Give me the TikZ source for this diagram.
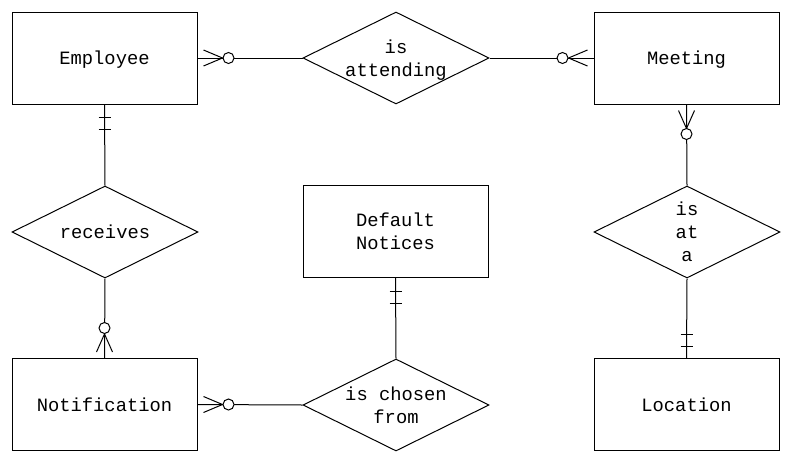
\documentclass[tikz,border=0pt]{standalone}
\usepackage{fontspec}
\setmonofont{Liberation Mono}
\usetikzlibrary{shapes.geometric,calc}
\begin{document}
\begin{tikzpicture}[x=1pt,y=-1pt,line width=1pt,
  every node/.style={font=\ttfamily\fontsize{18.8}{23}\selectfont,align=center,inner sep=0pt,text depth=0pt},
  entity/.style={draw,minimum width=185pt,minimum height=92pt},
  rel/.style={draw,diamond,aspect=2,minimum width=186pt,minimum height=92pt},
  ring/.style={draw,fill=white,circle,minimum size=11pt}]
\useasboundingbox (0,0) rectangle (787,458);
\node[entity] (emp) at (104.5,58) {Employee};
\node[entity] (meet) at (686.5,58) {Meeting};
\node[entity] (def) at (395.5,231.5) {Default\\Notices};
\node[entity] (noti) at (104.5,404.5) {Notification};
\node[entity] (loc) at (686.5,404.5) {Location};
\node[rel] (att) at (396,58) {is\\attending};
\node[rel] (rec) at (105,232) {receives};
\node[rel] (isat) at (687,232) {is\\at\\a};
\node[rel] (cho) at (396,405) {is chosen\\from};
% connectors
\draw (emp.east) -- (att.west);
\draw (att.east) -- (meet.west);
\draw (emp.south) -- (rec.north);
\draw (rec.south) -- (noti.north);
\draw (meet.south) -- (isat.north);
\draw (isat.south) -- (loc.north);
\draw (def.south) -- (cho.north);
\draw (cho.west) -- (noti.east);
% Employee side of is attending: many optional
\draw ($(emp.east)+(6,-8)$) -- ($(emp.east)+(25,0)$) -- ($(emp.east)+(6,8)$);
\node[ring] (r1) at ($(emp.east)+(31,0)$) {};
% Meeting side
\draw ($(meet.west)+(-6,-8)$) -- ($(meet.west)+(-25,0)$) -- ($(meet.west)+(-6,8)$);
\node[ring] (r2) at ($(meet.west)+(-31,0)$) {};
% Meeting bottom
\draw ($(meet.south)+(-8,6)$) -- ($(meet.south)+(0,24)$) -- ($(meet.south)+(8,6)$);
\node[ring] (r3) at ($(meet.south)+(0,29.5)$) {};
% Notification top
\draw ($(noti.north)+(-8,-6)$) -- ($(noti.north)+(0,-24)$) -- ($(noti.north)+(8,-6)$);
\node[ring] (r4) at ($(noti.north)+(0,-30)$) {};
% Notification right
\draw ($(noti.east)+(6,-8)$) -- ($(noti.east)+(25,0)$) -- ($(noti.east)+(6,8)$);
\node[ring] (r5) at ($(noti.east)+(31,0)$) {};
% bars
\foreach \d in {13,25} {
  \draw ($(emp.south)+(-6,\d)$) -- ($(emp.south)+(6,\d)$);
  \draw ($(def.south)+(-6,\d)$) -- ($(def.south)+(6,\d)$);
}
\foreach \d in {12,24} {
  \draw ($(loc.north)+(-6,-\d)$) -- ($(loc.north)+(6,-\d)$);
}
\end{tikzpicture}
\end{document}
